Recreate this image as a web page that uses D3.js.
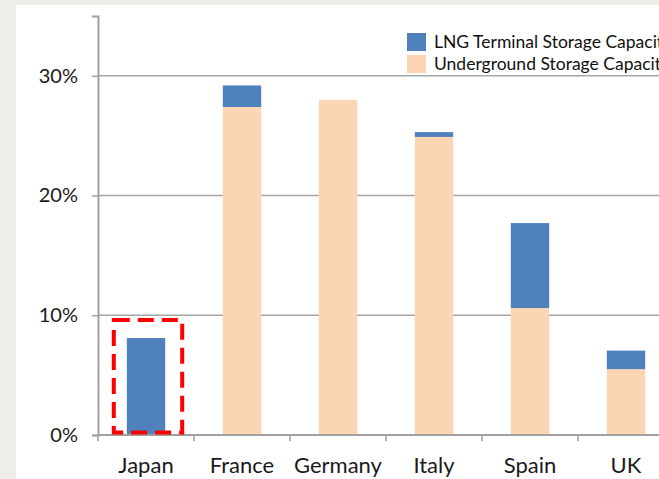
<!DOCTYPE html>
<html>
<head>
<meta charset="utf-8">
<script src="https://cdn.jsdelivr.net/npm/d3@7"></script>
<style>
  body { margin: 0; background: #eeede9; overflow: hidden; }
  svg { display: block; }
</style>
</head>
<body>
<div id="chart"></div>
<script>
// categories and stacked values (percent)
const countries = ['Japan', 'France', 'Germany', 'Italy', 'Spain', 'UK']
const underground = [0, 27.4, 28.0, 24.9, 10.6, 5.5]
const lngTerminal = [8.1, 1.8, 0, 0.4, 7.1, 1.55]
const yTicks = [0, 10, 20, 30]
const seriesNames = ['LNG Terminal Storage Capacity', 'Underground Storage Capacity']
const seriesColors = ['#4f81bd', '#fcd5b5']

const width = 659
const height = 479
const margin = { top: 16, left: 98, bottom: 44 }
const plotBottom = height - margin.bottom
const band = 96

const svg = d3.select('#chart')
  .append('svg')
  .attr('width', width)
  .attr('height', height)

// white card behind the chart
svg.append('rect')
  .attr('x', 16)
  .attr('y', 5)
  .attr('width', width)
  .attr('height', height)
  .attr('fill', '#ffffff')

const x = d3.scaleBand()
  .domain(countries)
  .range([margin.left, margin.left + band * countries.length])
  .paddingInner(0.6)
  .paddingOuter(0.3)

const y = d3.scaleLinear()
  .domain([0, 35])
  .range([plotBottom, margin.top])

const font = 'Lato, "Open Sans", sans-serif'

// gridlines
svg.append('g')
  .selectAll('line')
  .data(yTicks.filter(d => d > 0))
  .enter()
  .append('line')
  .attr('x1', margin.left)
  .attr('x2', width)
  .attr('y1', d => y(d))
  .attr('y2', d => y(d))
  .style('stroke', '#a6a6a6')
  .style('stroke-width', 1.5)

// y axis
const yAxis = svg.append('g')
  .attr('transform', `translate(${margin.left},0)`)
  .call(d3.axisLeft(y).tickValues(yTicks).tickSize(6).tickPadding(14).tickFormat(d => d + '%'))
yAxis.select('.domain').style('stroke', '#a0a0a0').style('stroke-width', 2)
yAxis.selectAll('.tick line').style('stroke', '#a0a0a0').style('stroke-width', 1.5)
yAxis.selectAll('text')
  .style('font-family', font)
  .style('font-size', '20px')
  .style('fill', '#1a1a1a')

// stacked data
const rows = countries.map((c, i) => ({ country: c, underground: underground[i], lng: lngTerminal[i] }))
const stack = d3.stack().keys(['underground', 'lng'])(rows)
const colorByKey = { underground: seriesColors[1], lng: seriesColors[0] }

svg.append('g')
  .selectAll('g')
  .data(stack)
  .enter()
  .append('g')
  .attr('fill', d => colorByKey[d.key])
  .selectAll('rect')
  .data(d => d.filter(p => p[1] - p[0] > 0))
  .enter()
  .append('rect')
  .attr('x', d => x(d.data.country))
  .attr('width', x.bandwidth())
  .attr('y', d => y(d[1]))
  .attr('height', d => y(d[0]) - y(d[1]))

// x axis baseline with ticks between categories
const xAxis = svg.append('g')
  .attr('transform', `translate(0,${plotBottom})`)
xAxis.append('line')
  .attr('x1', margin.left)
  .attr('x2', width)
  .style('stroke', '#a0a0a0')
  .style('stroke-width', 2)
xAxis.selectAll('line.tick')
  .data(d3.range(countries.length + 1))
  .enter()
  .append('line')
  .attr('class', 'tick')
  .attr('x1', i => margin.left + i * band)
  .attr('x2', i => margin.left + i * band)
  .attr('y1', 0)
  .attr('y2', 6)
  .style('stroke', '#a0a0a0')
  .style('stroke-width', 1.5)
xAxis.selectAll('text')
  .data(countries)
  .enter()
  .append('text')
  .attr('x', d => x(d) + x.bandwidth() / 2)
  .attr('y', 38)
  .attr('text-anchor', 'middle')
  .style('font-family', font)
  .style('font-size', '22px')
  .style('fill', '#1a1a1a')
  .text(d => d)

// red dashed highlight around Japan
svg.append('rect')
  .attr('x', x('Japan') - 13)
  .attr('y', y(9.6))
  .attr('width', x.bandwidth() + 30)
  .attr('height', y(0.2) - y(9.6))
  .attr('fill', 'none')
  .style('stroke', '#ff0000')
  .style('stroke-width', 4)
  .style('stroke-dasharray', '16,8')

// legend (cut at the right edge as in the original)
const legend = svg.append('g')
  .attr('transform', 'translate(407,33)')
  .selectAll('g')
  .data(seriesNames)
  .enter()
  .append('g')
  .attr('transform', (d, i) => `translate(0,${i * 22})`)
legend.append('rect')
  .attr('width', 19)
  .attr('height', 18)
  .attr('fill', (d, i) => seriesColors[i])
legend.append('text')
  .attr('x', 27)
  .attr('y', 15)
  .style('font-family', font)
  .style('font-size', '17.5px')
  .style('fill', '#111')
  .text(d => d)
</script>
</body>
</html>
